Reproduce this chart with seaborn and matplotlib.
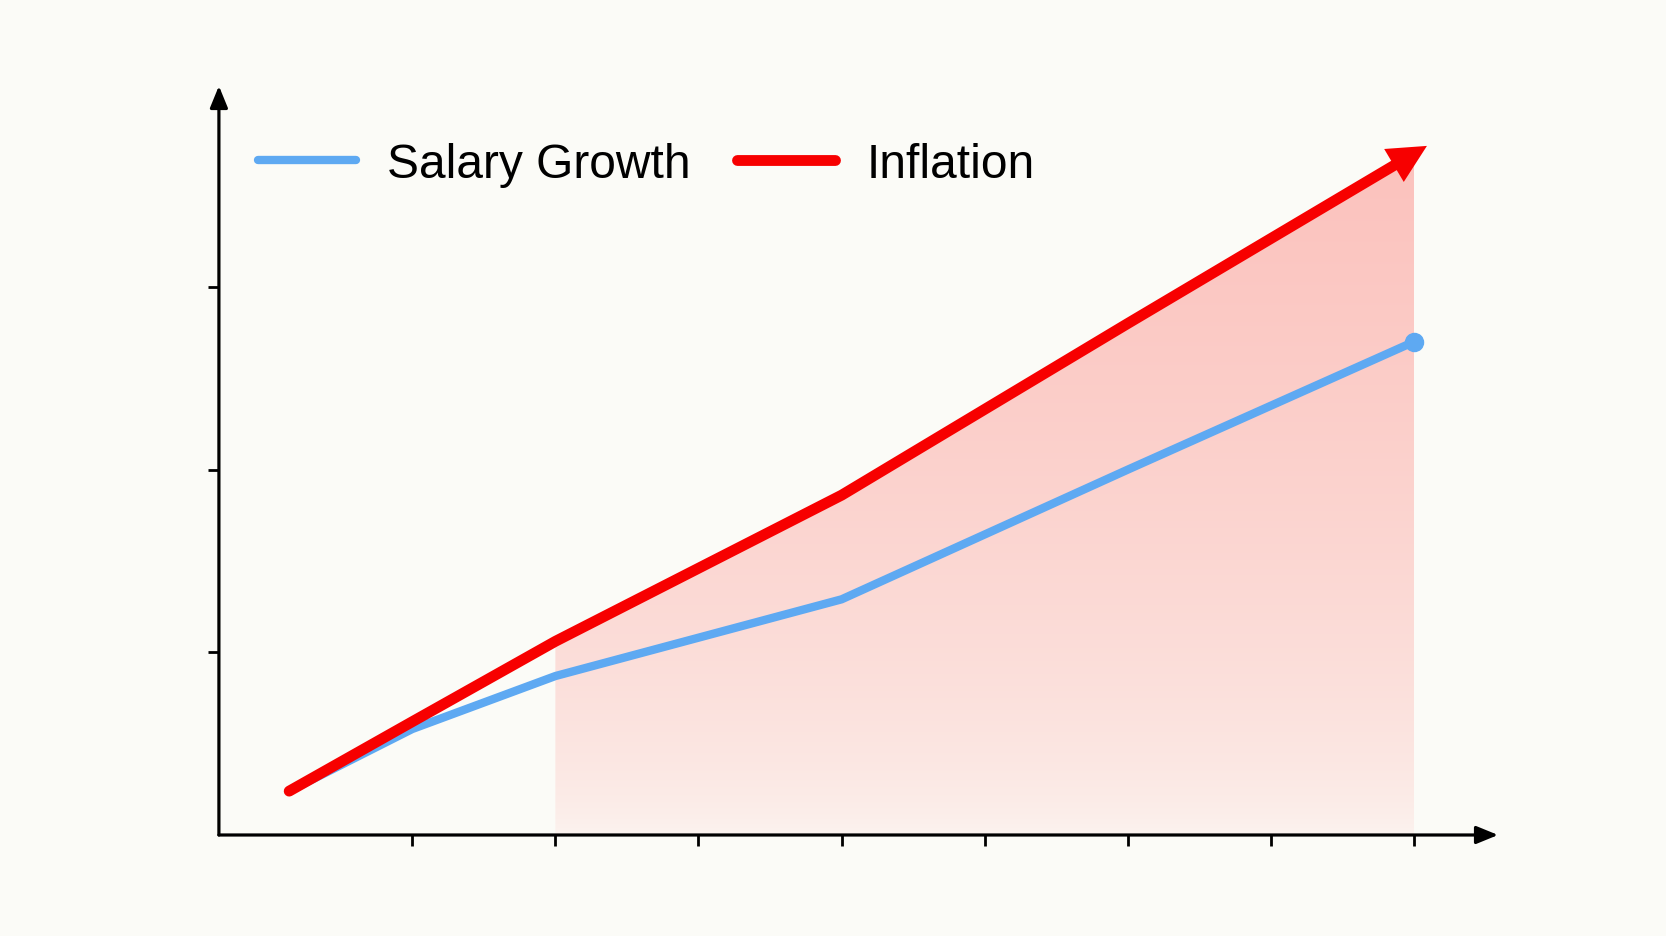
"""
Salary growth vs inflation
--------------------------
Two lines, shaded gap area, arrow-tipped axes and no tick labels.
"""

import numpy as np
import pandas as pd
import matplotlib
matplotlib.use("Agg")
import matplotlib.pyplot as plt
import seaborn as sns

# --- data (arbitrary units) -------------------------------------------------
years = [0.14, 1, 2, 4, 6, 8]
salary = [0.24, 0.58, 0.87, 1.29, 2.00, 2.70]
inflation = [0.24, 0.62, 1.06, 1.86, 2.80, 3.73]
x_ticks = [1, 2, 3, 4, 5, 6, 7, 8]
y_ticks = [1, 2, 3]
series_names = ["Salary Growth", "Inflation"]
shade_from = 2  # gap shading starts at this year

BLUE = "#5ea9f2"
RED = "#f70000"
BG = "#fbfbf7"

sns.set_theme(style="white")
plt.rcParams["font.family"] = ["Liberation Sans", "DejaVu Sans"]

df = pd.DataFrame({
    "year": years * 2,
    "value": salary + inflation,
    "series": [series_names[0]] * len(years) + [series_names[1]] * len(years),
})

fig = plt.figure(figsize=(16.66, 9.37), dpi=100, facecolor=BG)
ax = fig.add_axes([0.1314, 0.1078, 0.8992 - 0.1314, 0.9072 - 0.1078])
ax.set_facecolor(BG)

ax.set_xlim(-0.351, 8.587)
ax.set_ylim(0, 4.10)

# --- gradient shading under the inflation line ------------------------------
xs = np.array(years)
inf = np.array(inflation)
mask = xs >= shade_from
poly = ax.fill_between(xs[mask], 0, inf[mask], color="none", lw=0)
top = inf.max()
ny = 300
frac = (np.linspace(0, 1, ny) ** 0.6)[:, None]
bottom_c = np.array([252, 244, 240]) / 255
top_c = np.array([251, 194, 189]) / 255
grad = bottom_c + frac * (top_c - bottom_c)
grad = np.repeat(grad[:, None, :], 2, axis=1)
img = ax.imshow(grad, origin="lower", aspect="auto",
                extent=[shade_from, xs.max(), 0, top], zorder=1)
path = poly.get_paths()[0]
img.set_clip_path(path, transform=ax.transData)

# --- lines -------------------------------------------------------------------
sns.lineplot(data=df, x="year", y="value", hue="series",
             palette=[BLUE, RED], ax=ax, legend=False, zorder=3,
             solid_capstyle="round", sort=False)
lines = ax.get_lines()
lines[0].set_linewidth(6.0)
lines[1].set_linewidth(7.8)

# end dot on salary line
ax.plot(years[-1], salary[-1], "o", color=BLUE, ms=13, zorder=4, clip_on=False)

# arrow head on inflation line, extending the last segment a little
dx = years[-1] - years[-2]
dy = inflation[-1] - inflation[-2]
k = 0.09 / dx
tip = (years[-1] + dx * k, inflation[-1] + dy * k)
ax.annotate("", xy=tip, xytext=(years[-1] - dx * 0.1, inflation[-1] - dy * 0.1),
            arrowprops=dict(arrowstyle="-|>,head_length=2.3,head_width=1.15",
                            color=RED, lw=0, shrinkA=0, shrinkB=0),
            zorder=5, annotation_clip=False)

# --- axes with arrows ----------------------------------------------------------
for s in ax.spines.values():
    s.set_visible(False)
arrow_kw = dict(arrowstyle="-|>,head_length=1.1,head_width=0.45",
                color="black", lw=2.3, shrinkA=0, shrinkB=0)
ax.annotate("", xy=(0, 1), xycoords="axes fraction", xytext=(0, 0),
            textcoords="axes fraction", arrowprops=arrow_kw, annotation_clip=False)
ax.annotate("", xy=(1, 0), xycoords="axes fraction", xytext=(0, 0),
            textcoords="axes fraction", arrowprops=arrow_kw, annotation_clip=False)

ax.set_xticks(x_ticks)
ax.set_yticks(y_ticks)
ax.tick_params(axis="both", direction="out", length=8, width=2.0,
               color="black", labelbottom=False, labelleft=False,
               bottom=True, left=True)
ax.set_xlabel("")
ax.set_ylabel("")
ax.grid(False)

# --- legend ---------------------------------------------------------------------
handles = [plt.Line2D([], [], color=BLUE, lw=6.0, solid_capstyle="round"),
           plt.Line2D([], [], color=RED, lw=7.8, solid_capstyle="round")]
leg = fig.legend(handles, series_names, loc="center left",
                 bbox_to_anchor=(258 / 1666, (937 - 165) / 937),
                 ncol=2, frameon=False, fontsize=34.5, handlelength=2.04,
                 handletextpad=0.65, columnspacing=0.98, borderpad=0,
                 borderaxespad=0)
for t in leg.get_texts():
    t.set_color("black")

fig.savefig("out.png", dpi=100, facecolor=BG)
plt.close(fig)
